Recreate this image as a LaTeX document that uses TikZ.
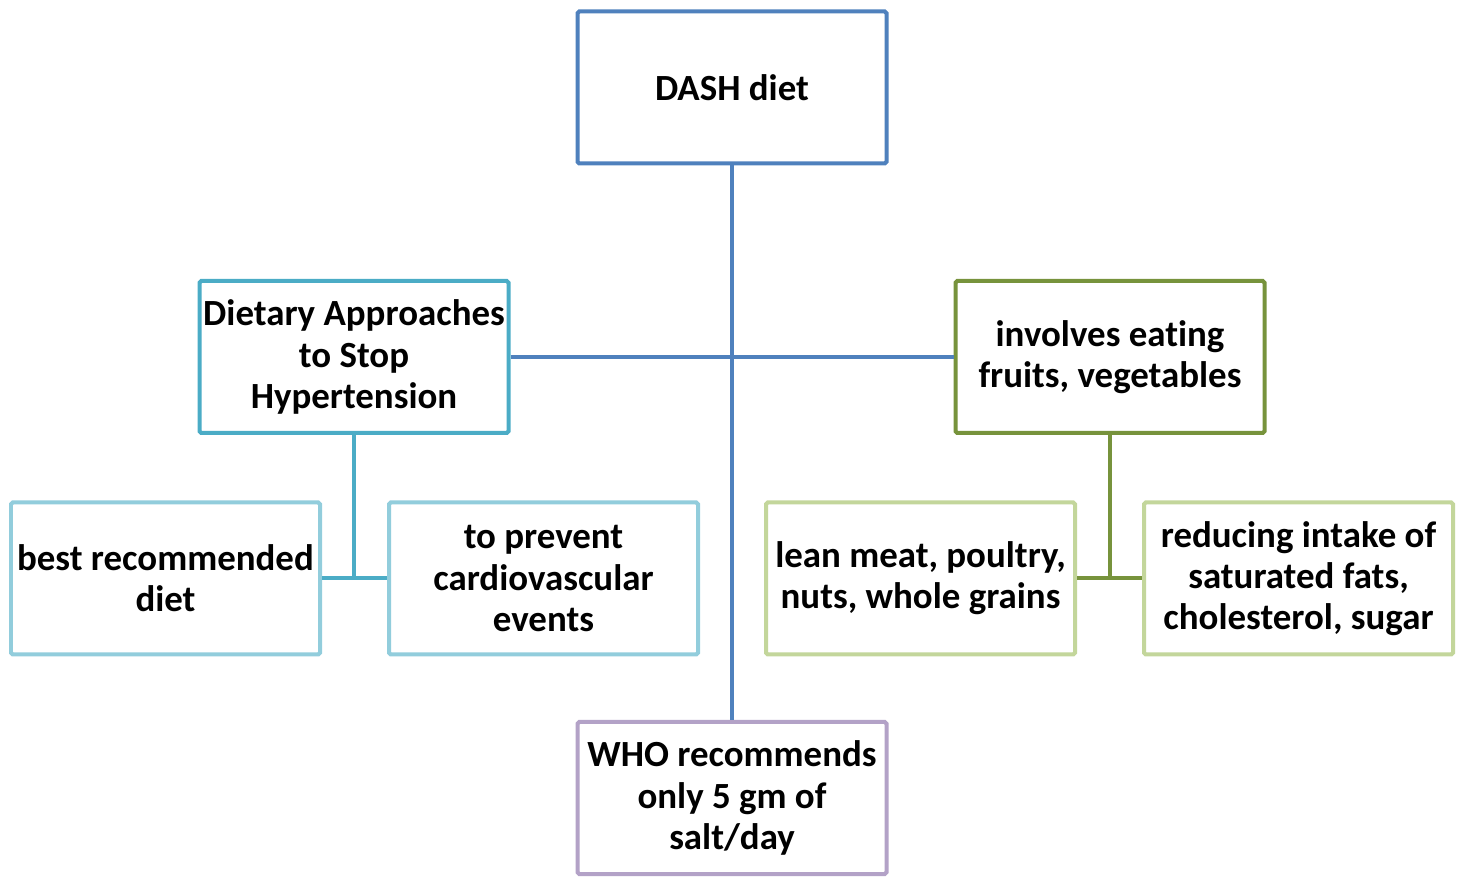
\documentclass[tikz,border=0pt]{standalone}
\usepackage{fontspec}
\setmainfont{Carlito}[Ligatures=NoCommon]
\usepackage{tikz}
\usetikzlibrary{positioning}
\usepackage{xcolor}
\definecolor{dashblue}{HTML}{4F81BD}
\definecolor{dashteal}{HTML}{4BACC6}
\definecolor{dashsky}{HTML}{92CDDC}
\definecolor{dasholive}{HTML}{77933C}
\definecolor{dashlime}{HTML}{C3D69B}
\definecolor{dashlilac}{HTML}{B3A2C7}

\begin{document}
\begin{tikzpicture}[
  box/.style={draw, line width=0.04cm, rounded corners=0.5pt, fill=white,
    minimum width=3.09cm, minimum height=1.52cm, align=center, inner sep=0pt,
    font=\fontsize{10.5pt}{11.7pt}\selectfont\bfseries},
  link/.style={line width=0.04cm}]
\useasboundingbox (0,0) rectangle (14.63,-8.78);
% top and bottom
\node[box, draw=dashblue] (dash) at (7.32,-0.875) {DASH diet};
\node[box, draw=dashlilac] (who) at (7.32,-7.98) {WHO recommends\\only 5 gm of\\salt/day};
% middle row
\node[box, draw=dashteal] (dietary) at (3.54,-3.57) {Dietary Approaches\\to Stop\\Hypertension};
\node[box, draw=dasholive] (eating) at (11.10,-3.57) {involves eating\\fruits, vegetables};
% bottom row
\node[box, draw=dashsky] (best) at (1.655,-5.785) {best recommended\\diet};
\node[box, draw=dashsky] (prevent) at (5.435,-5.785) {to prevent\\cardiovascular\\events};
\node[box, draw=dashlime] (lean) at (9.205,-5.785) {lean meat, poultry,\\nuts, whole grains};
\node[box, draw=dashlime] (reduce) at (12.985,-5.785) {reducing intake of\\saturated fats,\\cholesterol, sugar};
% connectors
\draw[link, dashblue] (dash.south) -- (who.north);
\draw[link, dashblue] (dietary.east) -- (eating.west);
\draw[link, dashteal] (dietary.south) -- (dietary.south |- best.east);
\draw[link, dashteal] (best.east) -- (prevent.west);
\draw[link, dasholive] (eating.south) -- (eating.south |- lean.east);
\draw[link, dasholive] (lean.east) -- (reduce.west);
\end{tikzpicture}
\end{document}
